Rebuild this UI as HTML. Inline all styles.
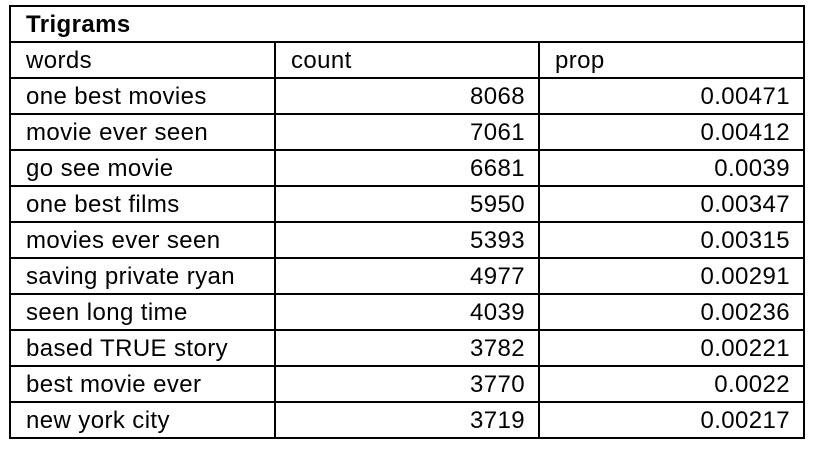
<!DOCTYPE html>
<html><head><meta charset="utf-8"><style>
body{margin:0;width:816px;height:450px;background:#fff;overflow:hidden;font-family:"Liberation Sans",sans-serif;}
table{position:absolute;left:9px;top:5px;border-collapse:collapse;table-layout:fixed;width:794px;}
td{border:2px solid #000;height:34px;padding:2px 13px 0 15px;box-sizing:border-box;font-size:24px;letter-spacing:0.4px;color:#000;white-space:nowrap;line-height:32px;}
tr{height:36px;}
td.n{text-align:right;}
.t{font-weight:bold;}
</style></head><body>
<table>
<colgroup><col style="width:265px"><col style="width:264px"><col style="width:265px"></colgroup>
<tr><td colspan="3" class="t">Trigrams</td></tr>
<tr><td>words</td><td>count</td><td>prop</td></tr>
<tr><td>one best movies</td><td class="n">8068</td><td class="n">0.00471</td></tr>
<tr><td>movie ever seen</td><td class="n">7061</td><td class="n">0.00412</td></tr>
<tr><td>go see movie</td><td class="n">6681</td><td class="n">0.0039</td></tr>
<tr><td>one best films</td><td class="n">5950</td><td class="n">0.00347</td></tr>
<tr><td>movies ever seen</td><td class="n">5393</td><td class="n">0.00315</td></tr>
<tr><td>saving private ryan</td><td class="n">4977</td><td class="n">0.00291</td></tr>
<tr><td>seen long time</td><td class="n">4039</td><td class="n">0.00236</td></tr>
<tr><td>based TRUE story</td><td class="n">3782</td><td class="n">0.00221</td></tr>
<tr><td>best movie ever</td><td class="n">3770</td><td class="n">0.0022</td></tr>
<tr><td>new york city</td><td class="n">3719</td><td class="n">0.00217</td></tr>
</table>
</body></html>
